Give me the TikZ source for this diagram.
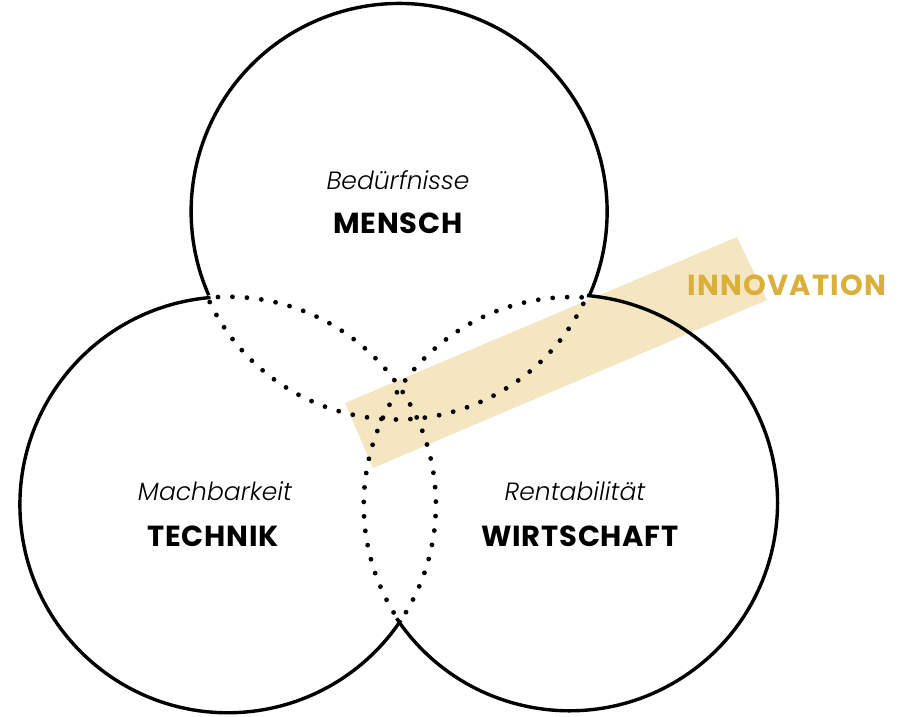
\documentclass[tikz,border=0pt]{standalone}
\usepackage{fontspec}
\newfontfamily\headfont{Poppins Bold}[LetterSpace=2.5]
\newfontfamily\innofont{Poppins Bold}[LetterSpace=4]
\newfontfamily\subfont{Poppins Light Italic}
\definecolor{band}{HTML}{F3E6C0}
\definecolor{gold}{HTML}{DAAF3C}
\tikzset{
  ring/.style={circle, minimum size=416pt, inner sep=0pt, outer sep=0pt, draw=none},
  solidarc/.style={line width=3.4pt, black},
  dotarc/.style={line width=4.8pt, black, line cap=round, dash pattern=on 0pt off 14.5pt, dash phase=7pt},
  sublabel/.style={font=\subfont\fontsize{25}{29}\selectfont, anchor=base, inner sep=0pt},
  headlabel/.style={font=\headfont\fontsize{29}{34}\selectfont, anchor=base, inner sep=0pt},
  innolabel/.style={font=\innofont\fontsize{29}{34}\selectfont, text=gold, anchor=base, inner sep=0pt}
}
\begin{document}
\begin{tikzpicture}[x=1pt, y=1pt]
\useasboundingbox[fill=white] (0,0) rectangle (898,-716);
% band
\fill[band] (345,-403) -- (737,-237) -- (767,-300) -- (373,-468) -- cycle;
% circles (invisible holders)
\node[ring] (mensch) at (398,-214) {};
\node[ring] (technik) at (225,-505) {};
\node[ring] (wirtschaft) at (571,-505) {};
% solid outline
\draw[solidarc] (mensch.-23.76) arc[start angle=-23.76, end angle=203.76, radius=208];
\draw[solidarc] (technik.94.8) arc[start angle=94.8, end angle=326.27, radius=208];
\draw[solidarc] (wirtschaft.213.73) arc[start angle=213.73, end angle=445.2, radius=208];
% dotted hidden parts
\draw[dotarc] (mensch.203.76) arc[start angle=203.76, end angle=336.24, radius=208];
\draw[dotarc] (technik.94.8) arc[start angle=94.8, end angle=-33.73, radius=208];
\draw[dotarc] (wirtschaft.85.2) arc[start angle=85.2, end angle=213.73, radius=208];
% labels
\node[sublabel] (m1) at (398,-189) {Bedürfnisse};
\node[headlabel] (m2) at (398,-233) {MENSCH};
\node[sublabel] (t1) at (215,-500) {Machbarkeit};
\node[headlabel] (t2) at (213,-546) {TECHNIK};
\node[sublabel] (w1) at (575,-500) {Rentabilität};
\node[headlabel] (w2) at (580,-546) {WIRTSCHAFT};
\node[innolabel] (inno) at (787,-295) {INNOVATION};
\end{tikzpicture}
\end{document}
